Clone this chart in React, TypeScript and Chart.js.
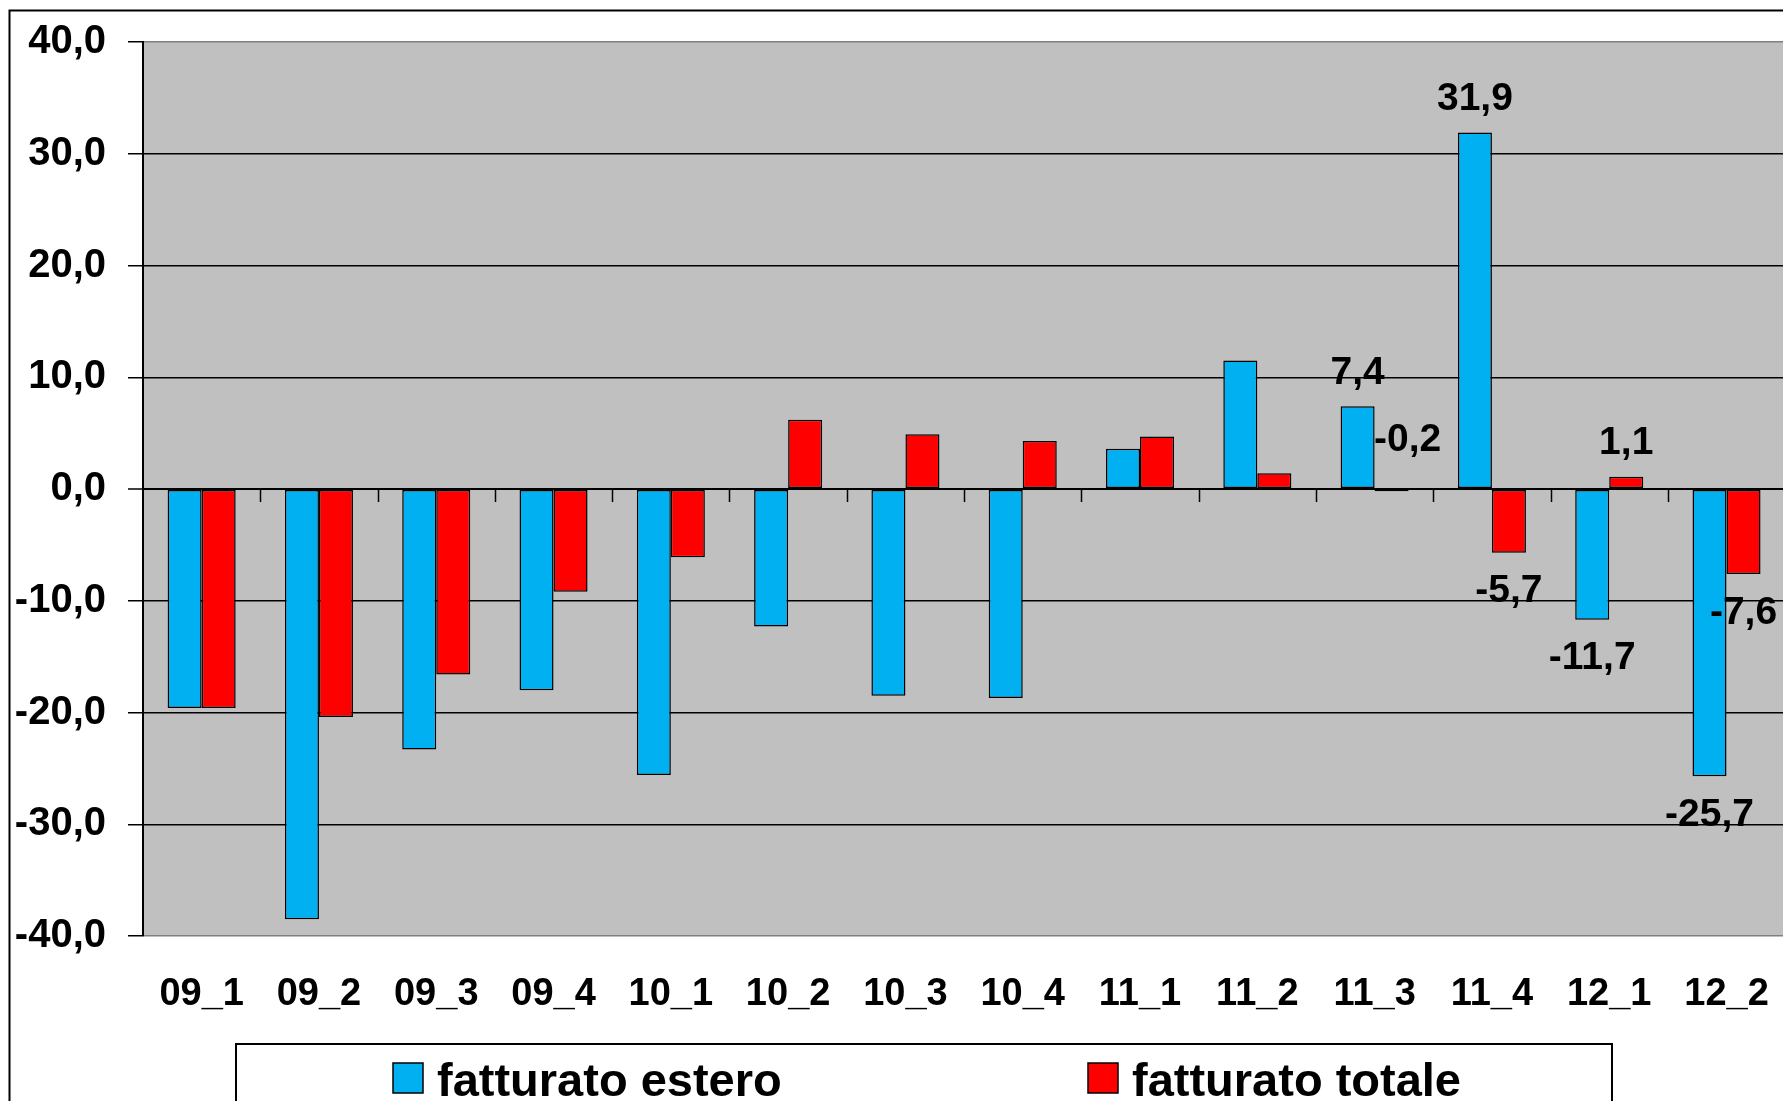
import React, { useEffect, useRef } from 'react';
import { Chart, registerables } from 'chart.js';

Chart.register(...registerables);

const categories = ['09_1', '09_2', '09_3', '09_4', '10_1', '10_2', '10_3', '10_4', '11_1', '11_2', '11_3', '11_4', '12_1', '12_2'];
const fatturatoEstero = [-19.6, -38.5, -23.3, -18.0, -25.6, -12.3, -18.5, -18.7, 3.6, 11.5, 7.4, 31.9, -11.7, -25.7];
const fatturatoTotale = [-19.6, -20.4, -16.6, -9.2, -6.1, 6.2, 4.9, 4.3, 4.7, 1.4, -0.2, -5.7, 1.1, -7.6];
const seriesNames = ['fatturato estero', 'fatturato totale'];
const seriesColors = ['#00B0F0', '#FF0000'];
const labeledCategories = ['11_3', '11_4', '12_1', '12_2'];
const yMin = -40;
const yMax = 40;
const yStep = 10;

const FONT = '"Liberation Sans", Arial, Helvetica, sans-serif';
const fmt = (v: number) => v.toFixed(1).replace('.', ',');

const decorPlugin = {
  id: 'decor',
  beforeDraw(chart: any) {
    const { ctx, chartArea, width, height } = chart;
    ctx.save();
    ctx.fillStyle = '#ffffff';
    ctx.fillRect(0, 0, width, height);
    // outer frame (right/bottom lie outside the picture)
    ctx.strokeStyle = '#000';
    ctx.lineWidth = 2;
    ctx.strokeRect(9.5, 10.5, width + 200, height + 200);
    // plot area
    ctx.fillStyle = '#C0C0C0';
    ctx.fillRect(chartArea.left, chartArea.top, chartArea.right - chartArea.left, chartArea.bottom - chartArea.top);
    ctx.restore();
  },
  beforeDatasetsDraw(chart: any) {
    const { ctx } = chart;
    const xs = chart.scales.x;
    const ys = chart.scales.y;
    const y0 = ys.getPixelForValue(0);
    const half = (xs.getPixelForValue(1) - xs.getPixelForValue(0)) / 2;
    ctx.save();
    ctx.strokeStyle = '#000';
    ctx.lineWidth = 1.5;
    ctx.beginPath();
    for (let i = 1; i <= categories.length; i++) {
      const x = xs.getPixelForValue(i - 1) + half;
      ctx.moveTo(Math.round(x) + 0.5, y0);
      ctx.lineTo(Math.round(x) + 0.5, y0 + 13);
    }
    ctx.stroke();
    ctx.restore();
  },
  afterDatasetsDraw(chart: any) {
    const { ctx } = chart;
    ctx.save();
    ctx.fillStyle = '#000';
    ctx.font = `bold 39px ${FONT}`;
    ctx.textAlign = 'center';
    ctx.textBaseline = 'middle';
    chart.data.datasets.forEach((ds: any, di: number) => {
      const meta = chart.getDatasetMeta(di);
      meta.data.forEach((el: any, idx: number) => {
        if (!labeledCategories.includes(categories[idx])) return;
        const v = ds.data[idx];
        const top = Math.min(el.y, el.base);
        const bottom = Math.max(el.y, el.base);
        let x = el.x;
        let y;
        if (Math.abs(v) < 1) {
          // tiny bar: label sits above-right of the base
          x += 16;
          y = top - 50;
        } else if (v >= 0) {
          y = top - 33;
        } else {
          y = bottom + 39;
        }
        ctx.fillText(fmt(v), x, y);
      });
    });
    ctx.restore();

    // legend
    ctx.save();
    const boxL = 236, boxT = 1044, boxR = 1612;
    ctx.fillStyle = '#fff';
    ctx.fillRect(boxL, boxT, boxR - boxL, 200);
    ctx.strokeStyle = '#000';
    ctx.lineWidth = 2;
    ctx.strokeRect(boxL, boxT, boxR - boxL, 200);
    const itemX = [393, 1088];
    ctx.font = `bold 47px ${FONT}`;
    ctx.textAlign = 'left';
    ctx.textBaseline = 'alphabetic';
    chart.data.datasets.forEach((ds: any, di: number) => {
      const x = itemX[di];
      ctx.fillStyle = ds.backgroundColor;
      ctx.fillRect(x, 1063, 30, 30);
      ctx.strokeStyle = '#000';
      ctx.lineWidth = 1.5;
      ctx.strokeRect(x, 1063, 30, 30);
      ctx.fillStyle = '#000';
      ctx.fillText(ds.label, x + 44, 1096);
    });
    ctx.restore();
  },
};

export default function App() {
  const ref = useRef<HTMLCanvasElement | null>(null);
  useEffect(() => {
    if (!ref.current) return;
    const chart = new Chart(ref.current, {
      type: 'bar',
      data: {
        labels: categories,
        datasets: [
          { label: seriesNames[0], data: fatturatoEstero, backgroundColor: seriesColors[0], borderColor: '#000', borderWidth: 1.5, borderSkipped: false },
          { label: seriesNames[1], data: fatturatoTotale, backgroundColor: seriesColors[1], borderColor: '#000', borderWidth: 1.5, borderSkipped: false },
        ],
      },
      options: {
        responsive: false,
        animation: false,
        devicePixelRatio: 1,
        datasets: { bar: { categoryPercentage: 0.58, barPercentage: 1.0 } },
        layout: { padding: { top: 42, left: 0, right: 6, bottom: 85 } },
        plugins: { legend: { display: false }, tooltip: { enabled: false }, title: { display: false } },
        scales: {
          x: {
            offset: true,
            grid: { display: false, drawTicks: false },
            border: { display: false },
            ticks: { autoSkip: false, maxRotation: 0, color: '#000', padding: 36, font: { family: FONT, weight: 'bold', size: 38 } },
            afterFit: (s: any) => { s.height = 80; },
          },
          y: {
            min: yMin,
            max: yMax,
            ticks: { stepSize: yStep, color: '#000', padding: 22, callback: (v: any) => fmt(Number(v)), font: { family: FONT, weight: 'bold', size: 40, lineHeight: 1 } },
            grid: {
              color: (c: any) => (c.tick && Math.abs(c.tick.value) === 40 ? '#808080' : '#000'),
              lineWidth: (c: any) => (c.tick && c.tick.value === 0 ? 2 : 1.5),
              tickLength: 15,
              tickColor: '#000',
              tickWidth: 1.5,
            },
            border: { display: true, color: '#000', width: 2 },
            afterFit: (s: any) => { s.width = 143; },
          },
        },
      },
      plugins: [decorPlugin],
    } as any);
    return () => chart.destroy();
  }, []);
  return (
    <div style={{ position: 'fixed', left: 0, top: 0, width: 1783, height: 1101, overflow: 'hidden', background: '#fff' }}>
      <canvas ref={ref} width={1805} height={1101} style={{ width: 1805, height: 1101, display: 'block' }} />
    </div>
  );
}
